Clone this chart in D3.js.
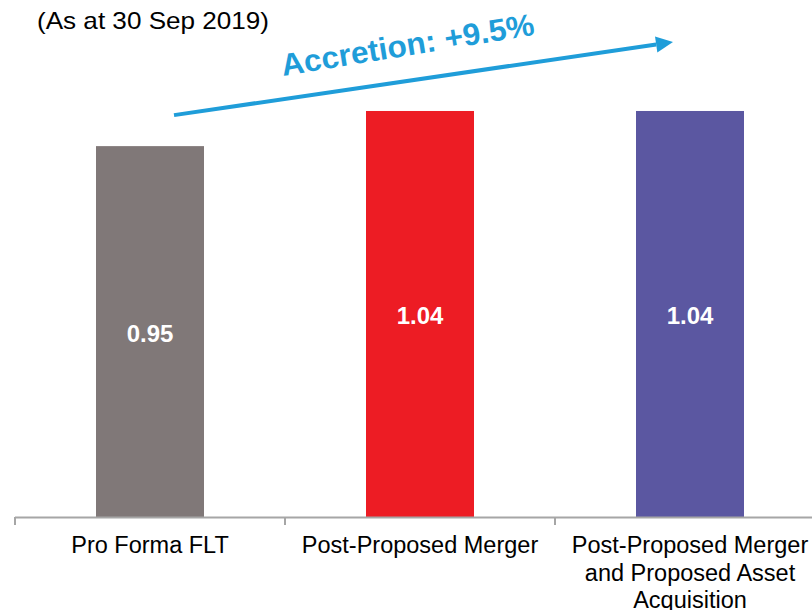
<!DOCTYPE html>
<html>
<head>
<meta charset="utf-8">
<script src="https://cdn.jsdelivr.net/npm/d3@7"></script>
<style>
  body { margin: 0; background: #fff; }
  text { font-family: "Liberation Sans", Arial, sans-serif; }
</style>
</head>
<body>
<script>
var categories = ["Pro Forma FLT", "Post-Proposed Merger", "Post-Proposed Merger and Proposed Asset Acquisition"];
var values = [0.95, 1.04, 1.04];
var valueLabels = ["0.95", "1.04", "1.04"];
var colors = ["#807878", "#ed1c24", "#5b57a1"];
var subtitle = "(As at 30 Sep 2019)";
var accretionLabel = "Accretion: +9.5%";

var width = 812, height = 610;
var baseY = 517;

var svg = d3.select("body").append("svg")
    .attr("width", width)
    .attr("height", height);

var x = d3.scaleBand()
    .domain(categories)
    .range([15, 825])
    .paddingInner(0.6)
    .paddingOuter(0.3);

var y = d3.scaleLinear()
    .domain([0, 1])
    .range([baseY, baseY - 390.4]);

// bars
svg.selectAll("rect.bar")
    .data(values)
    .enter().append("rect")
    .attr("class", "bar")
    .attr("x", function (d, i) { return x(categories[i]); })
    .attr("y", function (d) { return y(d); })
    .attr("width", x.bandwidth())
    .attr("height", function (d) { return y(0) - y(d); })
    .attr("fill", function (d, i) { return colors[i]; });

// value labels inside bars
svg.selectAll("text.val")
    .data(values)
    .enter().append("text")
    .attr("class", "val")
    .attr("x", function (d, i) { return x(categories[i]) + x.bandwidth() / 2; })
    .attr("y", function (d) { return (y(d) + y(0)) / 2; })
    .attr("dy", "0.42em")
    .attr("text-anchor", "middle")
    .attr("font-size", 24)
    .attr("font-weight", "bold")
    .attr("fill", "#fff")
    .text(function (d, i) { return valueLabels[i]; });

// x axis: baseline + boundary ticks
svg.append("line")
    .attr("x1", 15).attr("x2", width)
    .attr("y1", baseY + 0.5).attr("y2", baseY + 0.5)
    .attr("stroke", "#a6a6a6")
    .attr("stroke-width", 2);

svg.selectAll("line.tick")
    .data(categories)
    .enter().append("line")
    .attr("class", "tick")
    .attr("x1", function (d) { return x(d) - x.step() * x.paddingOuter(); })
    .attr("x2", function (d) { return x(d) - x.step() * x.paddingOuter(); })
    .attr("y1", baseY).attr("y2", baseY + 8)
    .attr("stroke", "#a6a6a6")
    .attr("stroke-width", 2);

var axis = d3.axisBottom(x).tickSize(0).tickPadding(0);
var axisG = svg.append("g")
    .attr("transform", "translate(0," + baseY + ")")
    .call(axis);
axisG.select(".domain").remove();
axisG.selectAll(".tick text")
    .attr("font-family", "Liberation Sans, Arial, sans-serif")
    .attr("font-size", 23.5)
    .attr("fill", "#000")
    .call(wrap, 255);

function wrap(sel, maxW) {
  sel.each(function (label) {
    var t = d3.select(this);
    var words = label.split(" ");
    t.text(null);
    var line = [], lineNo = 0;
    var tspan = t.append("tspan").attr("x", 0).attr("y", 36).text("");
    words.forEach(function (w) {
      line.push(w);
      tspan.text(line.join(" "));
      if (tspan.node().getComputedTextLength() > maxW && line.length > 1) {
        line.pop();
        tspan.text(line.join(" "));
        line = [w];
        lineNo++;
        tspan = t.append("tspan").attr("x", 0).attr("y", 36 + lineNo * 27.5).text(w);
      }
    });
    t.attr("dy", null);
  });
}

// subtitle
svg.append("text")
    .attr("x", 37)
    .attr("y", 29)
    .attr("font-size", 24)
    .attr("textLength", 232)
    .attr("lengthAdjust", "spacingAndGlyphs")
    .attr("fill", "#000")
    .text(subtitle);

// accretion arrow
var blue = "#1f9dd9";
var x0 = x(categories[0]) + 78, y0 = y(values[0]) - 31;
var x1 = x(categories[2]) + 37, y1 = 42;
var ang = Math.atan2(y1 - y0, x1 - x0);
var headLen = 17, headW = 8;
var bx = x1 - headLen * Math.cos(ang), by = y1 - headLen * Math.sin(ang);

svg.append("line")
    .attr("x1", x0).attr("y1", y0)
    .attr("x2", bx).attr("y2", by)
    .attr("stroke", blue)
    .attr("stroke-width", 4);

svg.append("path")
    .attr("d", d3.line()([
      [x1, y1],
      [bx - headW * Math.sin(ang), by + headW * Math.cos(ang)],
      [bx + headW * Math.sin(ang), by - headW * Math.cos(ang)]
    ]) + "Z")
    .attr("fill", blue);

svg.append("text")
    .attr("transform", "translate(283,76) rotate(-9.3)")
    .attr("font-size", 31)
    .attr("font-weight", "bold")
    .attr("fill", blue)
    .attr("textLength", 256)
    .attr("lengthAdjust", "spacingAndGlyphs")
    .text(accretionLabel);
</script>
</body>
</html>
